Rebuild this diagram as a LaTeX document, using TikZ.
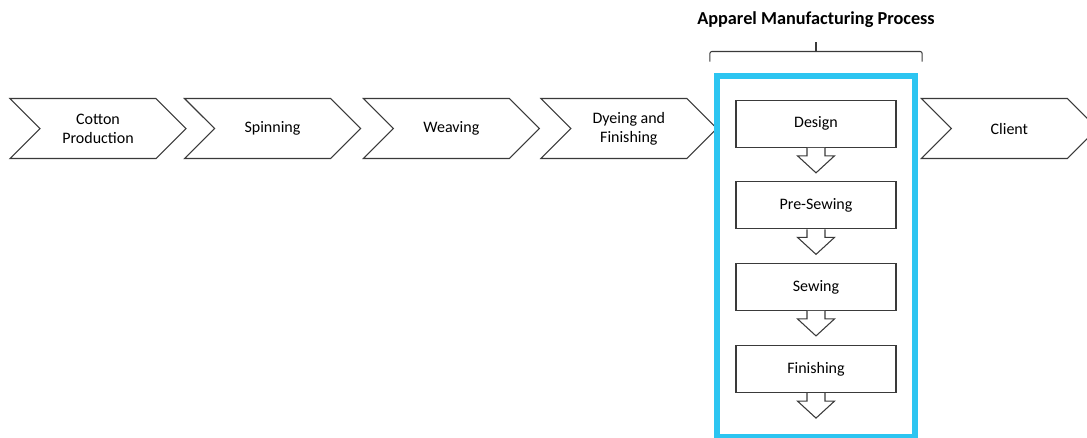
\documentclass[tikz,border=0pt]{standalone}
\usepackage{fontspec}
\setmainfont{Carlito}
\usepackage{tikz}
\usetikzlibrary{shapes.symbols, positioning, fit}
\definecolor{framebl}{HTML}{2CC5F1}
\definecolor{edgegray}{HTML}{3A3A3A}

\begin{document}
\begin{tikzpicture}[
    x=0.75pt, y=-0.75pt,
    chevron/.style={signal, signal to=east, signal from=west, signal pointer angle=90, draw=edgegray, line width=0.8pt, minimum width=132pt, minimum height=45pt, inner sep=0pt, align=center, font=\fontsize{12}{14.3}\selectfont}, % value chain steps
    stagebox/.style={rectangle, draw=edgegray, line width=0.8pt, minimum width=120pt, minimum height=35.25pt, align=center, font=\fontsize{12}{14.3}\selectfont},
    stagearrow/.style={draw=edgegray, line width=0.8pt, fill=white, line join=miter},
    procframe/.style={rectangle, draw=framebl, line width=4.6pt, inner sep=0pt},
    title/.style={font=\fontsize{13.7}{16}\selectfont\bfseries}
]
\useasboundingbox (0,0) rectangle (1087,437);

% Value chain
\node[chevron] (cotton) at (98,128.5) {Cotton\\Production};
\node[chevron, right=20.25pt of cotton] (spin) {Spinning};
\node[chevron, right=23.5pt of spin] (weave) {Weaving};
\node[chevron, right=22.5pt of weave] (dye) {Dyeing and\\Finishing};

% Apparel manufacturing stages
\node[stagebox] (design) at (816,123.8) {Design};
\node[stagebox, below=25.1pt of design] (presew) {Pre-Sewing};
\node[stagebox, below=25.1pt of presew] (sewing) {Sewing};
\node[stagebox, below=25.6pt of sewing] (finish) {Finishing};

% block arrows under each stage
\foreach \s in {design, presew, sewing, finish}
    \draw[stagearrow] (\s.south) ++(-9,0) -- ++(0,8) -- ++(-9.5,0) -- ++(18.5,17) -- ++(18.5,-17) -- ++(-9.5,0) -- ++(0,-8);

% Frame round the stages
\coordinate (frametop) at ([yshift=17.8pt]design.north);
\coordinate (framebot) at ([yshift=-33pt]finish.south);
\node[procframe, fit=(frametop)(framebot)(design.west)(design.east), inner xsep=13.9pt, inner ysep=0pt] (apparel) {};

\node[chevron, right=174.75pt of dye] (client) {Client};

% Bracket and headline
\draw[edgegray, line width=0.8pt, rounded corners=1.5pt] ([xshift=-3pt, yshift=8.6pt]apparel.north west) -- ([xshift=-3pt, yshift=16.1pt]apparel.north west) -- ([xshift=3pt, yshift=16.1pt]apparel.north east) -- ([xshift=3pt, yshift=8.6pt]apparel.north east);
\draw[edgegray, line width=0.8pt] ([yshift=16.1pt]apparel.north) -- ([yshift=22.9pt]apparel.north);
\node[title] (head) at (816,20) {Apparel Manufacturing Process};

\end{tikzpicture}
\end{document}
